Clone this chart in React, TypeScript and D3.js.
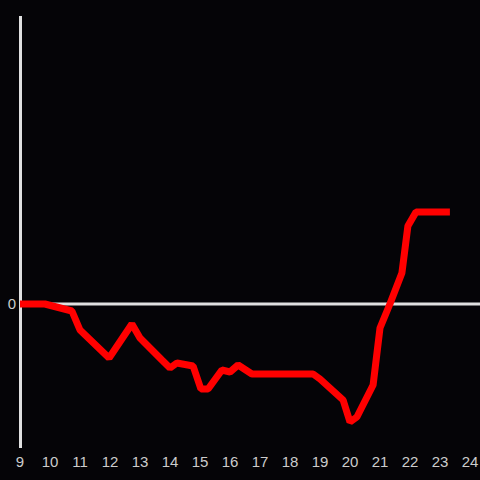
import React, { useEffect, useRef } from "react";
import * as d3 from "d3";

const xValues = [9.0, 9.83, 10.73, 11.0, 11.97, 12.73, 13.0, 13.73, 14.0, 14.23, 14.77, 15.03, 15.27, 15.73, 16.0, 16.27, 16.73, 18.77, 19.0, 19.77, 20.0, 20.23, 20.77, 21.0, 21.33, 21.73, 21.93, 22.2, 23.33];
const yValues = [0, 0, -7, -26, -54, -20, -34, -56, -64, -59, -62, -85, -85, -66, -68, -61, -70, -70, -75, -96, -118, -113, -81, -24, 0, 31, 78, 92, 92];
const xTicks = [9, 10, 11, 12, 13, 14, 15, 16, 17, 18, 19, 20, 21, 22, 23, 24];
const yTicks = [0];

export default function App() {
  const ref = useRef<SVGSVGElement | null>(null);
  useEffect(() => {
    const svg = d3.select(ref.current);
    svg.selectAll("*").remove();
    const W = 480, H = 480;
    const x = d3.scaleLinear().domain([9, 24]).range([20, 470]);
    const y = d3.scaleLinear().domain([-144, 288]).range([448, 16]);
    const font = "Liberation Sans, Arial, sans-serif";

    svg.append("rect").attr("width", W).attr("height", H).attr("fill", "#050407");

    yTicks.forEach((t) => {
      svg.append("line")
        .attr("x1", 20).attr("x2", 480)
        .attr("y1", y(t)).attr("y2", y(t))
        .attr("stroke", "#e0e0e0").attr("stroke-width", 3);
      svg.append("text")
        .attr("x", 12).attr("y", y(t))
        .attr("dy", "0.35em")
        .attr("text-anchor", "middle")
        .attr("fill", "#cccccc")
        .attr("font-family", font)
        .attr("font-size", 15)
        .text(String(t));
    });

    svg.append("line")
      .attr("x1", 20.5).attr("x2", 20.5)
      .attr("y1", 16).attr("y2", 448)
      .attr("stroke", "#e0e0e0").attr("stroke-width", 3);

    svg.append("g").selectAll("text").data(xTicks).join("text")
      .attr("x", (d) => x(d))
      .attr("y", 467)
      .attr("text-anchor", "middle")
      .attr("fill", "#cccccc")
      .attr("font-family", font)
      .attr("font-size", 15)
      .text((d) => String(d));

    const data = xValues.map((v, i) => [v, yValues[i]] as [number, number]);
    const line = d3.line<[number, number]>().x((d) => x(d[0])).y((d) => y(d[1]));
    svg.append("path")
      .attr("d", line(data) || "")
      .attr("fill", "none")
      .attr("stroke", "#ff0000")
      .attr("stroke-width", 7)
      .attr("stroke-linejoin", "bevel");
  }, []);
  return (
    <svg
      ref={ref}
      width={480}
      height={480}
      style={{ position: "absolute", left: 0, top: 0, display: "block" }}
    />
  );
}
